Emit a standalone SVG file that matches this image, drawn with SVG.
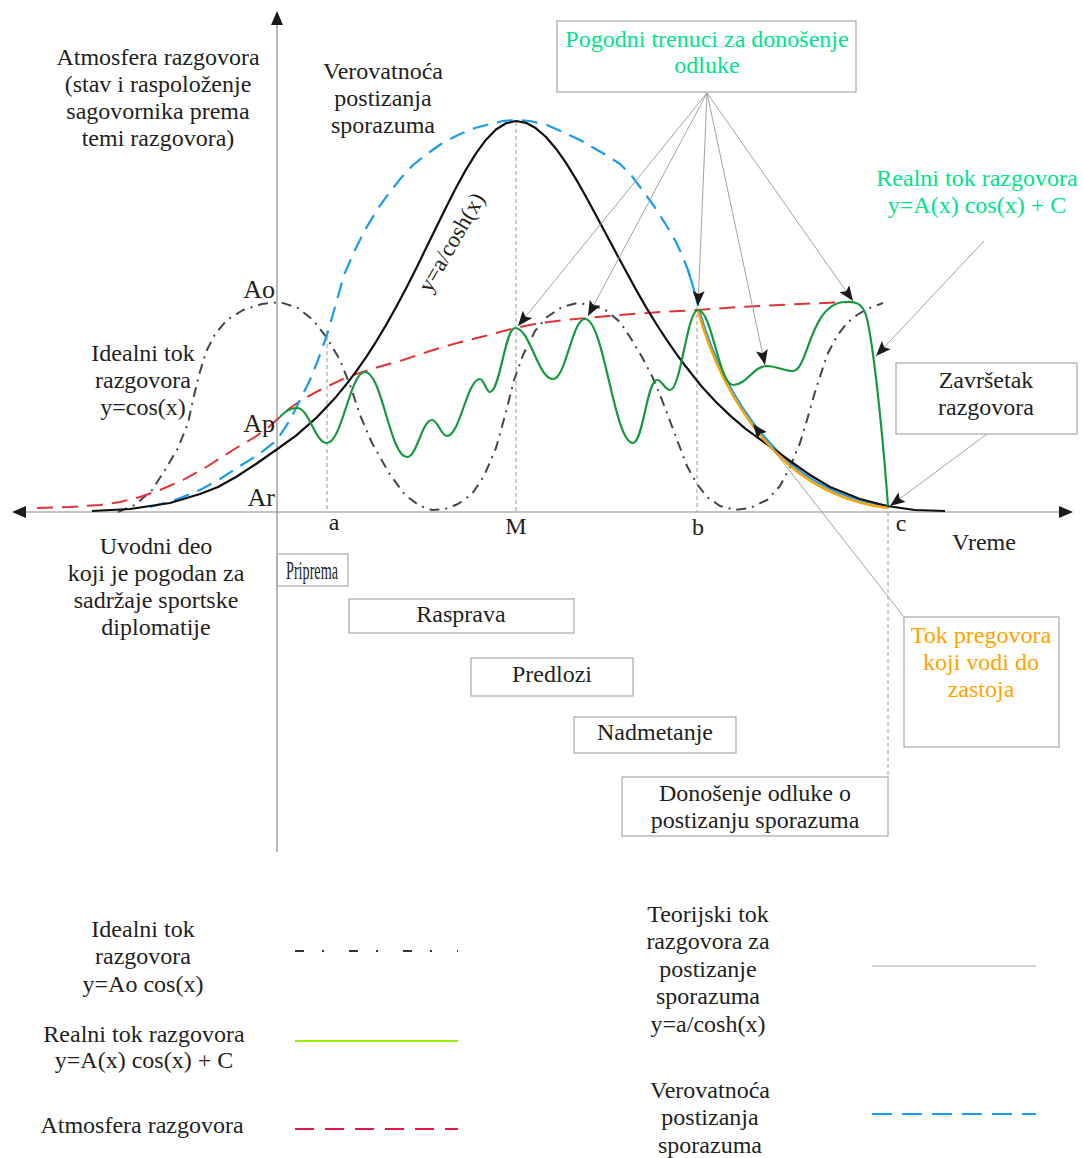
<svg xmlns="http://www.w3.org/2000/svg" width="1083" height="1158" viewBox="0 0 1083 1158">
<style>
.t{font-family:"Liberation Serif","Times New Roman",serif;font-size:24px;fill:#231f20;text-anchor:middle}
.g{fill:#00e38c}
.o{fill:#ffa300}
.box{fill:none;stroke:#a8a8a8;stroke-width:1.2}
.conn{fill:none;stroke:#9a9a9a;stroke-width:0.9}
.guide{fill:none;stroke:#9a9a9a;stroke-width:1;stroke-dasharray:4 3}
.axis{fill:none;stroke:#8a8a8a;stroke-width:1.2}
.ideal{fill:none;stroke:#454545;stroke-width:2;stroke-dasharray:10 6 2 6;stroke-linejoin:round}
.real{fill:none;stroke:#14993c;stroke-width:2.2;stroke-linejoin:round}
.atm{fill:none;stroke:#e33235;stroke-width:2;stroke-dasharray:16 9;stroke-linejoin:round}
.prob{fill:none;stroke:#1a9cec;stroke-width:2.2;stroke-dasharray:16 9;stroke-linejoin:round}
.theo{fill:none;stroke:#111;stroke-width:2.2;stroke-linejoin:round}
.stall{fill:none;stroke:#f7a400;stroke-width:2.6;stroke-linejoin:round}
</style>
<defs>
<marker id="ah" markerUnits="userSpaceOnUse" markerWidth="16" markerHeight="12" refX="15" refY="6" orient="auto">
<path d="M0,0 L15,6 L0,12 L3,6 z" fill="#1a1a1a"/>
</marker>
</defs>
<rect width="1083" height="1158" fill="#fff"/>

<g id="axes">
<line class="axis" x1="277" y1="22" x2="277" y2="852"/>
<polygon points="277,11 271,25 283,25" fill="#1a1a1a"/>
<line class="axis" x1="24" y1="512" x2="1062" y2="512"/>
<polygon points="12,512 26,506 26,518" fill="#1a1a1a"/>
<polygon points="1073,512 1059,506 1059,518" fill="#1a1a1a"/>
</g>

<g id="guides">
<line class="guide" x1="327" y1="330" x2="327" y2="512"/>
<line class="guide" x1="516" y1="122" x2="516" y2="512"/>
<line class="guide" x1="697" y1="300" x2="697" y2="512"/>
<line class="guide" x1="888" y1="505" x2="888" y2="777"/>
</g>

<g id="curves">
<path id="ideal-curve" class="ideal" d="M118,512 L135,505 L152,490 L165,470 L178,448 L188,423 L193,400 L199,375 L206,352 L215,334 L227,320 L243,310 L262,304 L280,302 L298,308 L313,320 L327,338 L340,360 L350,385 L360,415 L372,443 L389,473 L405,495 L420,506 L432,510 L445,509 L458,504 L472,494 L484,476 L496,448 L506,412 L514,380 L523,355 L535,331 L547,317 L562,307 L577,303 L592,305 L607,311 L620,322 L630,337 L642,357 L653,378 L662,400 L670,421 L679,445 L687,466 L697,484 L707,497 L720,506 L735,510 L750,508 L767,500 L780,486 L790,467 L800,443 L807,420 L815,392 L827,355 L837,336 L847,323 L857,315 L867,309 L883,303"/>
<path id="atm-curve" class="atm" d="M37,508 L70,507 L100,505 L120,502 L140,497 L160,490 L183,480 L208,466 L233,450 L255,437 L270,426 L282,415 L290,408 L305,398 L320,390 L347,377 L375,368 L403,360 L430,351 L457,343 L485,336 L515,328 L540,323 L565,320 L587,318 L620,315 L660,312 L697,310 L740,307 L800,304 L850,302"/>
<path id="prob-curve" class="prob" d="M150,507 L175,500 L200,490 L220,479 L240,466 L258,455 L277,440 L290,420 L300,400 L310,380 L318,360 L327,335 L337,300 L344,275 L355,250 L365,230 L377,210 L389,193 L401,178 L413,165 L427,154 L441,144 L458,135 L475,128 L490,124 L503,121 L516,120 L530,121 L547,125 L565,133 L580,140 L592,147 L606,155 L620,164 L631,175 L640,187 L654,206 L668,228 L676,242 L682,255 L688,270 L692,283"/>
<path class="prob" style="stroke-dasharray:none" d="M688,270 L692,283 L696,297 L698,306"/>
<path class="prob" style="stroke-dasharray:none;stroke-width:2" d="M699,309 C716,369 746,424 791,464 C821,489 856,502 889,506"/>
<path id="theo-curve" class="theo" d="M92,511 L130,509 L170,503 L200,494 L218,487 L236,477 L256,464 L276,450 L296,435.6 L316,418.2 L336,396.9 L346,384.8 L356,371.7 L366,357.4 L376,341.8 L386,325.1 L396,307.3 L406,288.4 L416,268.7 L426,248.3 L436,227.8 L446,207.4 L456,187.8 L466,169.6 L476,153.3 L486,139.7 L496,129.5 L506,123.2 L516,121 L526,122.8 L536,128.3 L546,137 L556,148.7 L566,162.9 L576,179.1 L586,196.7 L596,215.2 L606,234 L616,252.8 L626,271.3 L636,289.6 L646,307.1 L656,323.5 L666,338.9 L676,353.4 L686,366.8 L701,385.7 L716,402 L731,416.4 L746,429.1 L766,443.5 L790,461 L810,475 L830,487 L860,499 L887,506 L915,510 L945,511"/>
<path id="stall-curve" class="stall" d="M698,311 C715,371 745,426 790,466 C820,491 855,504 888,508"/>
<path id="real-curve" class="real" d="M280,417 C285,411 290,408 297,408 C309,408 315,443 327,443 C342,443 350,372 365,372 C382,372 390,457 407,457 C417,457 422,420 432,420 C438,420 441,436 447,436 C460,436 467,379 480,379 C484,379 486,392 490,392 C500,392 505,328 515,328 C530,328 538,379 553,379 C566,379 572,319 585,319 C604,319 614,443 633,443 C643,443 647,380 657,380 C662,380 665,390 670,390 C681,390 687,310 698,310 C712,310 719,385 733,385 C747,385 753,366 767,366 C777,366 783,371 793,371 C808,371 810,303 845,302 C855,301 862,303 866,315 C871,332 880,400 888,506"/>
</g>

<g id="curve-label">
<text class="t" transform="translate(458,246) rotate(-60)" style="font-size:23px">y=a/cosh(x)</text>
</g>

<g id="axis-labels">
<text class="t" x="275" y="298" style="font-size:26px;text-anchor:end">Ao</text>
<text class="t" x="275" y="432" style="font-size:26px;text-anchor:end">Ap</text>
<text class="t" x="275" y="506" style="font-size:26px;text-anchor:end">Ar</text>
<text class="t" x="334" y="530">a</text>
<text class="t" x="516" y="534">M</text>
<text class="t" x="698" y="535">b</text>
<text class="t" x="901" y="531">c</text>
<text class="t" x="984" y="550">Vreme</text>
</g>

<g id="atmosfera-label">
<text class="t" x="158" y="65">Atmosfera razgovora</text>
<text class="t" x="158" y="92">(stav i raspoloženje</text>
<text class="t" x="158" y="119">sagovornika prema</text>
<text class="t" x="158" y="146">temi razgovora)</text>
</g>

<g id="verovatnoca-label">
<text class="t" x="383" y="79">Verovatnoća</text>
<text class="t" x="383" y="106">postizanja</text>
<text class="t" x="383" y="133">sporazuma</text>
</g>

<g id="idealni-label">
<text class="t" x="143" y="361">Idealni tok</text>
<text class="t" x="143" y="388">razgovora</text>
<text class="t" x="143" y="415">y=cos(x)</text>
</g>

<g id="uvodni-label">
<text class="t" x="156" y="554">Uvodni deo</text>
<text class="t" x="156" y="581">koji je pogodan za</text>
<text class="t" x="156" y="608">sadržaje sportske</text>
<text class="t" x="156" y="635">diplomatije</text>
</g>

<g id="pogodni">
<rect class="box" x="557" y="21" width="299" height="71"/>
<text class="t g" x="707" y="47">Pogodni trenuci za donošenje</text>
<text class="t g" x="707" y="73">odluke</text>
</g>

<g id="realni-label">
<text class="t g" x="977" y="186">Realni tok razgovora</text>
<text class="t g" x="977" y="213">y=A(x) cos(x) + C</text>
</g>

<g id="zavrsetak">
<rect class="box" x="896" y="363" width="181" height="71"/>
<text class="t" x="986" y="388">Završetak</text>
<text class="t" x="986" y="415">razgovora</text>
</g>

<g id="tok-pregovora">
<rect class="box" x="904" y="617" width="155" height="130"/>
<text class="t o" x="981" y="643">Tok pregovora</text>
<text class="t o" x="981" y="670">koji vodi do</text>
<text class="t o" x="981" y="697">zastoja</text>
</g>

<g id="priprema">
<rect class="box" x="277" y="554" width="71" height="32"/>
<text class="t" x="312" y="579" style="font-size:25px" textLength="52" lengthAdjust="spacingAndGlyphs">Priprema</text>
</g>

<g id="rasprava">
<rect class="box" x="349" y="599" width="225" height="34"/>
<text class="t" x="461" y="622">Rasprava</text>
</g>

<g id="predlozi">
<rect class="box" x="471" y="658" width="162" height="38"/>
<text class="t" x="552" y="682">Predlozi</text>
</g>

<g id="nadmetanje">
<rect class="box" x="574" y="717" width="162" height="36"/>
<text class="t" x="655" y="740">Nadmetanje</text>
</g>

<g id="donosenje">
<rect class="box" x="622" y="777" width="266" height="59"/>
<text class="t" x="755" y="801">Donošenje odluke o</text>
<text class="t" x="755" y="828">postizanju sporazuma</text>
</g>

<g id="connectors">
<line class="conn" x1="707" y1="93" x2="518" y2="326" marker-end="url(#ah)"/>
<line class="conn" x1="707" y1="93" x2="588" y2="316" marker-end="url(#ah)"/>
<line class="conn" x1="707" y1="93" x2="698" y2="306" marker-end="url(#ah)"/>
<line class="conn" x1="707" y1="93" x2="765" y2="365" marker-end="url(#ah)"/>
<line class="conn" x1="707" y1="93" x2="853" y2="301" marker-end="url(#ah)"/>
<line class="conn" x1="984" y1="241" x2="876" y2="356" marker-end="url(#ah)"/>
<line class="conn" x1="987" y1="434" x2="890" y2="506" marker-end="url(#ah)"/>
<line class="conn" x1="904" y1="617" x2="753" y2="424" marker-end="url(#ah)"/>
</g>

<g id="legend">
<text class="t" x="143" y="937">Idealni tok</text>
<text class="t" x="143" y="964">razgovora</text>
<text class="t" x="143" y="992">y=Ao cos(x)</text>
<line x1="295" y1="951" x2="458" y2="951" stroke="#333" stroke-width="2" stroke-dasharray="9 18 2 25"/>
<text class="t" x="144" y="1042">Realni tok razgovora</text>
<text class="t" x="144" y="1068">y=A(x) cos(x) + C</text>
<line x1="295" y1="1041" x2="458" y2="1041" stroke="#99ee00" stroke-width="2.2"/>
<text class="t" x="142" y="1133">Atmosfera razgovora</text>
<line x1="295" y1="1129" x2="458" y2="1129" stroke="#e8174a" stroke-width="2.2" stroke-dasharray="19 11"/>
<text class="t" x="708" y="922">Teorijski tok</text>
<text class="t" x="708" y="949">razgovora za</text>
<text class="t" x="708" y="977">postizanje</text>
<text class="t" x="708" y="1004">sporazuma</text>
<text class="t" x="708" y="1032">y=a/cosh(x)</text>
<line x1="872" y1="966" x2="1036" y2="966" stroke="#aaa" stroke-width="1.2"/>
<text class="t" x="710" y="1098">Verovatnoća</text>
<text class="t" x="710" y="1125">postizanja</text>
<text class="t" x="710" y="1153">sporazuma</text>
<line x1="872" y1="1114" x2="1036" y2="1114" stroke="#1a9ef0" stroke-width="2.2" stroke-dasharray="20 10"/>
</g>
</svg>
